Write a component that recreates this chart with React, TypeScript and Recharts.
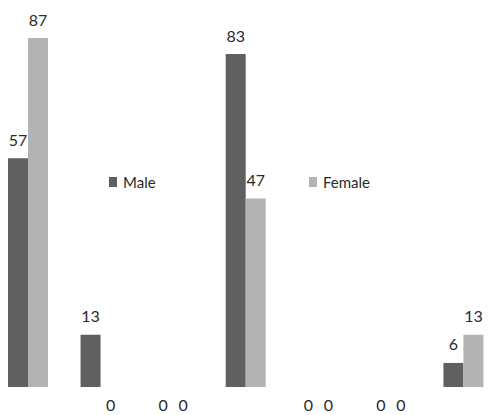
import React from "react";
import { BarChart, Bar, XAxis, YAxis, Legend } from "recharts";

const categories = ["1", "2", "3", "4", "5", "6", "7"];
const maleValues = [57, 13, 0, 83, 0, 0, 6];
const femaleValues = [87, 0, 0, 47, 0, 0, 13];
const seriesNames = ["Male", "Female"];

const MALE_COLOR = "#606060";
const FEMALE_COLOR = "#b3b3b3";
const TEXT_COLOR = "#2b2b2b";
const FONT = "Lato, 'DejaVu Sans', sans-serif";

const data = categories.map((c, i) => ({
    category: c,
    Male: maleValues[i],
    Female: femaleValues[i],
}));

// value above the bar; zeros go just under the baseline
const renderValue = (props: any) => {
    const { x, y, width, value } = props;
    const cx = Number(x) + Number(width) / 2;
    const ty = Number(value) === 0 ? Number(y) + 18 : Number(y) - 19;
    return (
        <text
            x={cx}
            y={ty}
            textAnchor="middle"
            dominantBaseline="central"
            fill={TEXT_COLOR}
            fontSize={16}
            fontFamily={FONT}
        >
            {value}
        </text>
    );
};

const legendColors: Record<string, string> = { Male: MALE_COLOR, Female: FEMALE_COLOR };

const renderLegend = () => (
    <div style={{ display: "flex" }}>
        {seriesNames.map((name) => (
            <div key={name} style={{ width: 200, display: "flex", alignItems: "center" }}>
                <span
                    style={{
                        display: "inline-block",
                        width: 8,
                        height: 10,
                        background: legendColors[name],
                        marginRight: 6,
                    }}
                />
                <span style={{ fontFamily: FONT, fontSize: 15, color: TEXT_COLOR }}>{name}</span>
            </div>
        ))}
    </div>
);

const App = () => {
    return (
        <div style={{ position: "absolute", left: -8, top: 0 }}>
            <BarChart
                width={508}
                height={415}
                data={data}
                margin={{ top: 26, right: 0, left: 0, bottom: 10 }}
                barCategoryGap={16}
                barGap={0}
            >
                <XAxis dataKey="category" hide />
                <YAxis hide domain={[0, 90]} />
                <Legend
                    content={renderLegend}
                    wrapperStyle={{ position: "absolute", top: 173, left: 117, width: 400 }}
                />
                <Bar
                    dataKey="Male"
                    fill={MALE_COLOR}
                    minPointSize={0.0001}
                    label={renderValue}
                    isAnimationActive={false}
                />
                <Bar
                    dataKey="Female"
                    fill={FEMALE_COLOR}
                    minPointSize={0.0001}
                    label={renderValue}
                    isAnimationActive={false}
                />
            </BarChart>
        </div>
    );
};

export default App;
